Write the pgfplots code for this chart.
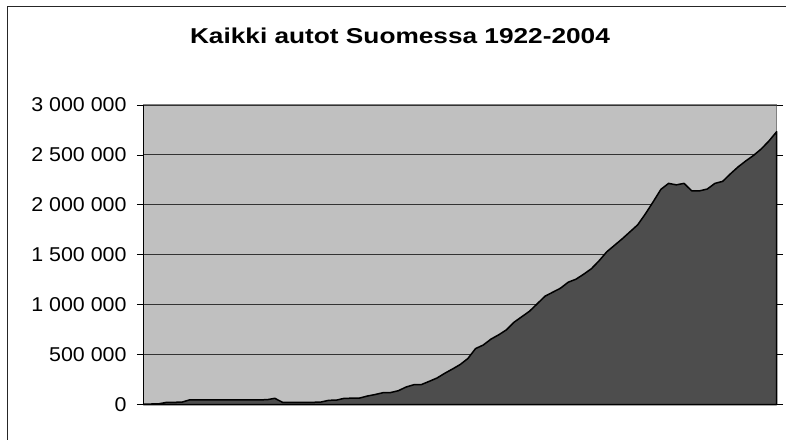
\documentclass[border=0pt]{standalone}
\usepackage{fontspec}
\setmainfont{Liberation Sans}
\newfontfamily\titlefont[FakeStretch=1.22]{Liberation Sans}
\newfontfamily\tickfont[FakeStretch=1.07]{Liberation Sans}
\usepackage{pgfplots}
\usepackage{pgfplotstable}
\pgfplotsset{compat=1.18}
\definecolor{plotbg}{HTML}{C0C0C0}
\definecolor{areafill}{HTML}{4D4D4D}
\definecolor{framegray}{HTML}{808080}
\newcommand{\tl}[1]{\hbox{\tickfont\fontsize{20}{24}\selectfont #1}}
\newcommand{\ts}{\kern5.9pt}
\pgfplotstableread{
year value
1922 5000
1923 5000
1924 7000
1925 22000
1926 22000
1927 24000
1928 47000
1929 47000
1930 47000
1931 47000
1932 47000
1933 47000
1934 47000
1935 47000
1936 47000
1937 47000
1938 48000
1939 62000
1940 22000
1941 22000
1942 22000
1943 22000
1944 22000
1945 25000
1946 42000
1947 44000
1948 62000
1949 63000
1950 65000
1951 85000
1952 100000
1953 118000
1954 120000
1955 138000
1956 175000
1957 198000
1958 200000
1959 232000
1960 265000
1961 312000
1962 355000
1963 400000
1964 460000
1965 560000
1966 596000
1967 655000
1968 698000
1969 748000
1970 825000
1971 880000
1972 935000
1973 1010000
1974 1085000
1975 1125000
1976 1165000
1977 1225000
1978 1255000
1979 1305000
1980 1360000
1981 1440000
1982 1530000
1983 1595000
1984 1660000
1985 1730000
1986 1800000
1987 1910000
1988 2030000
1989 2155000
1990 2215000
1991 2200000
1992 2215000
1993 2140000
1994 2140000
1995 2158000
1996 2215000
1997 2235000
1998 2310000
1999 2380000
2000 2440000
2001 2495000
2002 2560000
2003 2640000
2004 2733000
}\cars
\begin{document}
\begin{tikzpicture}
\useasboundingbox (0,0) rectangle (786pt,439pt);
\draw[line width=1.7pt, color=black!85] (7.5pt,-2pt) -- (7.5pt,432.5pt) -- (788pt,432.5pt);
\node[anchor=base, inner sep=0pt, font=\titlefont\bfseries\fontsize{21.5}{25}\selectfont] at (400pt,395pt) {Kaikki autot Suomessa 1922-2004};
\begin{axis}[
  at={(143.5pt,34.5pt)}, anchor=south west,
  scale only axis, width=633.2pt, height=299.5pt,
  xmin=1922, xmax=2004, ymin=0, ymax=3000000,
  xtick=\empty,
  ytick={0,500000,1000000,1500000,2000000,2500000,3000000},
  yticklabels={\tl{0},\tl{500\ts000},\tl{1\ts000\ts000},\tl{1\ts500\ts000},\tl{2\ts000\ts000},\tl{2\ts500\ts000},\tl{3\ts000\ts000}},
  scaled y ticks=false,
  tick align=outside, major tick length=6.5pt,
  ytick style={black, line width=0.8pt},
  y tick label style={anchor=east, inner sep=0pt, xshift=-10.3pt},
  ymajorgrids, grid style={color=black!80, line width=0.9pt},
  axis line style={draw=none},
  axis background/.style={fill=plotbg, draw=framegray, line width=1.3pt},
  clip=false,
]
\addplot[fill=areafill, draw=black, line width=1.5pt, line join=round] table[x=year, y=value] {\cars} \closedcycle;
\draw[black, line width=1.4pt] (rel axis cs:0,0) -- (rel axis cs:0,1);
\end{axis}
\end{tikzpicture}
\end{document}
